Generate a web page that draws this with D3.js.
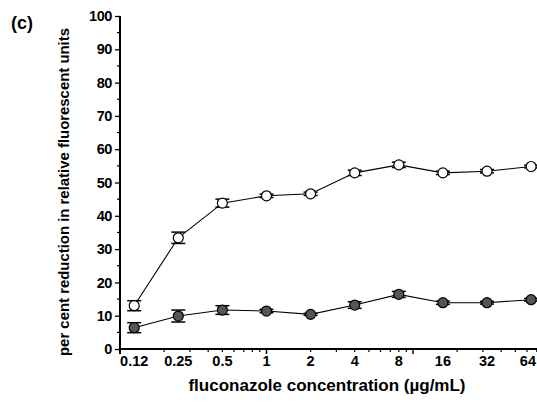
<!DOCTYPE html>
<html>
<head>
<meta charset="utf-8">
<script src="https://cdn.jsdelivr.net/npm/d3@7"></script>
<style>
  html, body { margin: 0; padding: 0; background: #fff; }
  svg { display: block; }
  text { font-family: "Liberation Sans", Arial, sans-serif; font-weight: bold; fill: #000; }
</style>
</head>
<body>
<svg id="chart" width="537" height="402"></svg>
<script>
// Fluconazole concentrations (µg/mL) and their printed labels
const concentrations = [0.125, 0.25, 0.5, 1, 2, 4, 8, 16, 32, 64];
const concLabels = ["0.12", "0.25", "0.5", "1", "2", "4", "8", "16", "32", "64"];

// Per cent reduction in relative fluorescent units (mean and error)
const openMean = [13.0, 33.4, 43.8, 46.0, 46.6, 52.9, 55.3, 52.9, 53.4, 54.8];
const openErr  = [1.5, 1.7, 1.2, 0.5, 0.5, 0.8, 0.8, 0.5, 0.5, 0.4];
const filledMean = [6.4, 9.9, 11.7, 11.4, 10.4, 13.2, 16.4, 13.9, 13.9, 14.8];
const filledErr  = [1.5, 1.8, 1.3, 0.5, 0.3, 1.0, 0.9, 0.5, 0.4, 0.4];

const yTicks = [0, 10, 20, 30, 40, 50, 60, 70, 80, 90, 100];

const svg = d3.select("#chart");

const x = d3.scaleLog().domain([0.1, 100]).range([120, 559.5]);
const y = d3.scaleLinear().domain([0, 100]).range([349, 16]);

// Panel label
svg.append("text").attr("x", 11).attr("y", 29).attr("font-size", 18).text("(c)");

// Y axis
const yAxis = d3.axisLeft(y).tickValues(yTicks).tickSize(5).tickPadding(3).tickFormat(d3.format("d"));
const gy = svg.append("g").attr("transform", "translate(120,0)").call(yAxis);
gy.select(".domain").remove();
gy.selectAll(".tick line").attr("stroke", "#000").attr("stroke-width", 1.3);
gy.selectAll(".tick text").attr("font-size", 14.5).attr("font-family", "Liberation Sans, Arial, sans-serif")
  .attr("font-weight", "bold").attr("letter-spacing", -0.4);
// minor y ticks at the halfway marks
gy.selectAll(".minor").data(d3.range(5, 100, 10)).enter().append("line")
  .attr("x1", -3).attr("x2", 0).attr("y1", d => y(d)).attr("y2", d => y(d))
  .attr("stroke", "#000").attr("stroke-width", 1.2);
svg.append("line").attr("x1", 120).attr("x2", 120).attr("y1", y(100)).attr("y2", y(0) + 5)
  .attr("stroke", "#000").attr("stroke-width", 2);

// X axis (log scale with decade minors)
const minorX = [];
[0.1, 1, 10].forEach(dec => { for (let k = 2; k <= 9; k++) minorX.push(dec * k); });
svg.append("line").attr("x1", 120).attr("x2", 537).attr("y1", y(0)).attr("y2", y(0))
  .attr("stroke", "#000").attr("stroke-width", 1.8);
svg.selectAll(".xminor").data(minorX).enter().append("line")
  .attr("x1", d => x(d)).attr("x2", d => x(d)).attr("y1", y(0)).attr("y2", y(0) + 3)
  .attr("stroke", "#000").attr("stroke-width", 1.2);
svg.selectAll(".xmajor").data([1, 10]).enter().append("line")
  .attr("x1", d => x(d)).attr("x2", d => x(d)).attr("y1", y(0)).attr("y2", y(0) + 5)
  .attr("stroke", "#000").attr("stroke-width", 1.5);
svg.selectAll(".xlab").data(concentrations).enter().append("text")
  .attr("x", (d, i) => i === concentrations.length - 1 ? 536 : x(d))
  .attr("y", 366)
  .attr("text-anchor", (d, i) => i === concentrations.length - 1 ? "end" : "middle")
  .attr("font-size", 14.5)
  .text((d, i) => concLabels[i]);

// Axis titles
svg.append("text").attr("x", 327).attr("y", 391).attr("text-anchor", "middle").attr("font-size", 17)
  .text("fluconazole concentration (\u00b5g/mL)");
svg.append("text").attr("transform", "translate(69,192) rotate(-90)").attr("text-anchor", "middle")
  .attr("font-size", 14).attr("textLength", 328).attr("lengthAdjust", "spacingAndGlyphs")
  .text("per cent reduction in relative fluorescent units");

// Series
function drawSeries(means, errs, fill) {
  const pts = concentrations.map((c, i) => ({ c, m: means[i], e: errs[i] }));
  const line = d3.line().x(d => x(d.c)).y(d => y(d.m));
  svg.append("path").datum(pts).attr("d", line).attr("fill", "none").attr("stroke", "#000").attr("stroke-width", 1.1);
  const g = svg.append("g");
  pts.forEach(d => {
    const cx = x(d.c);
    g.append("line").attr("x1", cx).attr("x2", cx).attr("y1", y(d.m + d.e)).attr("y2", y(d.m - d.e)).attr("stroke", "#000").attr("stroke-width", 1);
    [d.m + d.e, d.m - d.e].forEach(v => {
      g.append("line").attr("x1", cx - 7).attr("x2", cx + 7).attr("y1", y(v)).attr("y2", y(v)).attr("stroke", "#000").attr("stroke-width", 1.5);
    });
    g.append("circle").attr("cx", cx).attr("cy", y(d.m)).attr("r", 5)
      .attr("fill", fill).attr("stroke", "#000").attr("stroke-width", 1.2);
  });
}
drawSeries(openMean, openErr, "#fff");
drawSeries(filledMean, filledErr, "#555");
</script>
</body>
</html>
